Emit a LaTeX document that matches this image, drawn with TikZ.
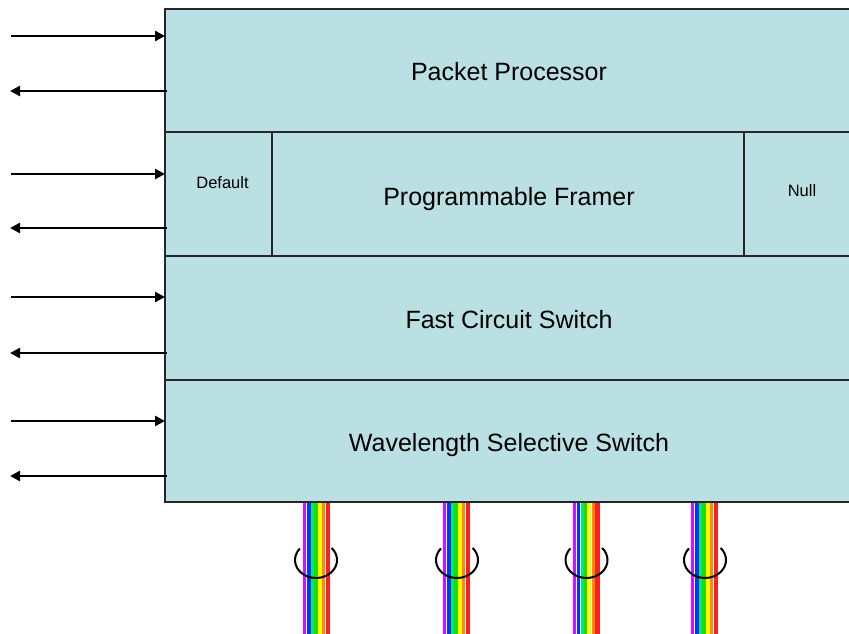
\documentclass[tikz,border=0pt]{standalone}
\usepackage{fontspec}
\setmainfont{Liberation Sans}
\usetikzlibrary{arrows.meta}
\definecolor{layerfill}{RGB}{187,224,227}
\definecolor{edgegray}{RGB}{38,38,38}
\definecolor{fpurple}{RGB}{204,20,255}
\definecolor{fblue}{RGB}{20,45,255}
\definecolor{fteal}{RGB}{0,228,140}
\definecolor{fgreen}{RGB}{20,225,0}
\definecolor{fyellow}{RGB}{255,250,0}
\definecolor{forange}{RGB}{255,140,0}
\definecolor{fred}{RGB}{255,30,30}
\tikzset{
  layer/.style={fill=layerfill, anchor=north west,
    inner sep=0pt, outer sep=0pt, minimum width=688pt,
    font=\fontsize{25}{30}\selectfont, text height=21pt, text depth=0pt},
  cell/.style={fill=layerfill, anchor=north west,
    inner sep=0pt, outer sep=0pt},
  outline/.style={draw=edgegray, line width=1.8pt},
  small/.style={font=\fontsize{16.5}{20}\selectfont, inner sep=0pt},
  sig/.style={line width=2.5pt, -{Triangle[length=10pt,width=10pt]}},
  strand/.style={line width=2pt},
}
\begin{document}
\begin{tikzpicture}[x=1pt,y=-1pt]
\useasboundingbox (0,0) rectangle (849,634);
\clip (0,0) rectangle (849,634);

% optical fibre bundles leaving the bottom of the stack
\foreach \x in {303,443,572.5,691}{
  \foreach \a/\b/\c in {0/3.4/fpurple,4.2/7.9/fblue,8.1/11.1/fteal,11.2/14.6/fgreen,
                        14.7/18.6/fyellow,19.4/22.1/forange,22.9/27/fred}{
    \fill[\c] (\x+\a,500) rectangle (\x+\b,640);
  }
}

% the four layers of the node
\node[layer, minimum height=123pt] (pp) at (165,9) {Packet Processor};
\node[layer, minimum height=123.7pt, text height=24pt] (pf) at (165,132) {Programmable Framer};
\node[layer, minimum height=124.6pt] (fcs) at (165,255.7) {Fast Circuit Switch};
\node[layer, minimum height=121.7pt] (wss) at (165,380.3) {Wavelength Selective Switch};

% side cells of the framer layer
\node[cell, minimum width=107pt, minimum height=123.7pt] (def) at (165,132) {};
\node[cell, minimum width=109pt, minimum height=123.7pt] (nul) at (744,132) {};
\node[small] (deflbl) at ([xshift=4pt,yshift=11pt]def.center) {Default};
\node[small] (nullbl) at ([xshift=3.5pt,yshift=3.5pt]nul.center) {Null};

% outlines on top of all fills so shared edges keep full width
\foreach \n in {pp,pf,fcs,wss,def,nul}{
  \draw[outline] (\n.north west) rectangle (\n.south east);
}

% input and output ports on the left
\foreach \n/\yin/\yout in {pp/36/91, pf/174/228, fcs/297/353, wss/421/476}{
  \coordinate (in-\n) at (10.5,\yin);
  \coordinate (out-\n) at (10,\yout);
  \draw[sig] (in-\n) -- (in-\n -| \n.west);
  \draw[sig] ([xshift=1.5pt]out-\n -| \n.west) -- (out-\n);
}

% strain loops around each bundle
\foreach \cx in {316,457,586.5,705}{
  \draw[strand] (\cx,560) ++(220:21 and 18)
    arc[start angle=220, end angle=-42, x radius=21, y radius=18];
}
\end{tikzpicture}
\end{document}
